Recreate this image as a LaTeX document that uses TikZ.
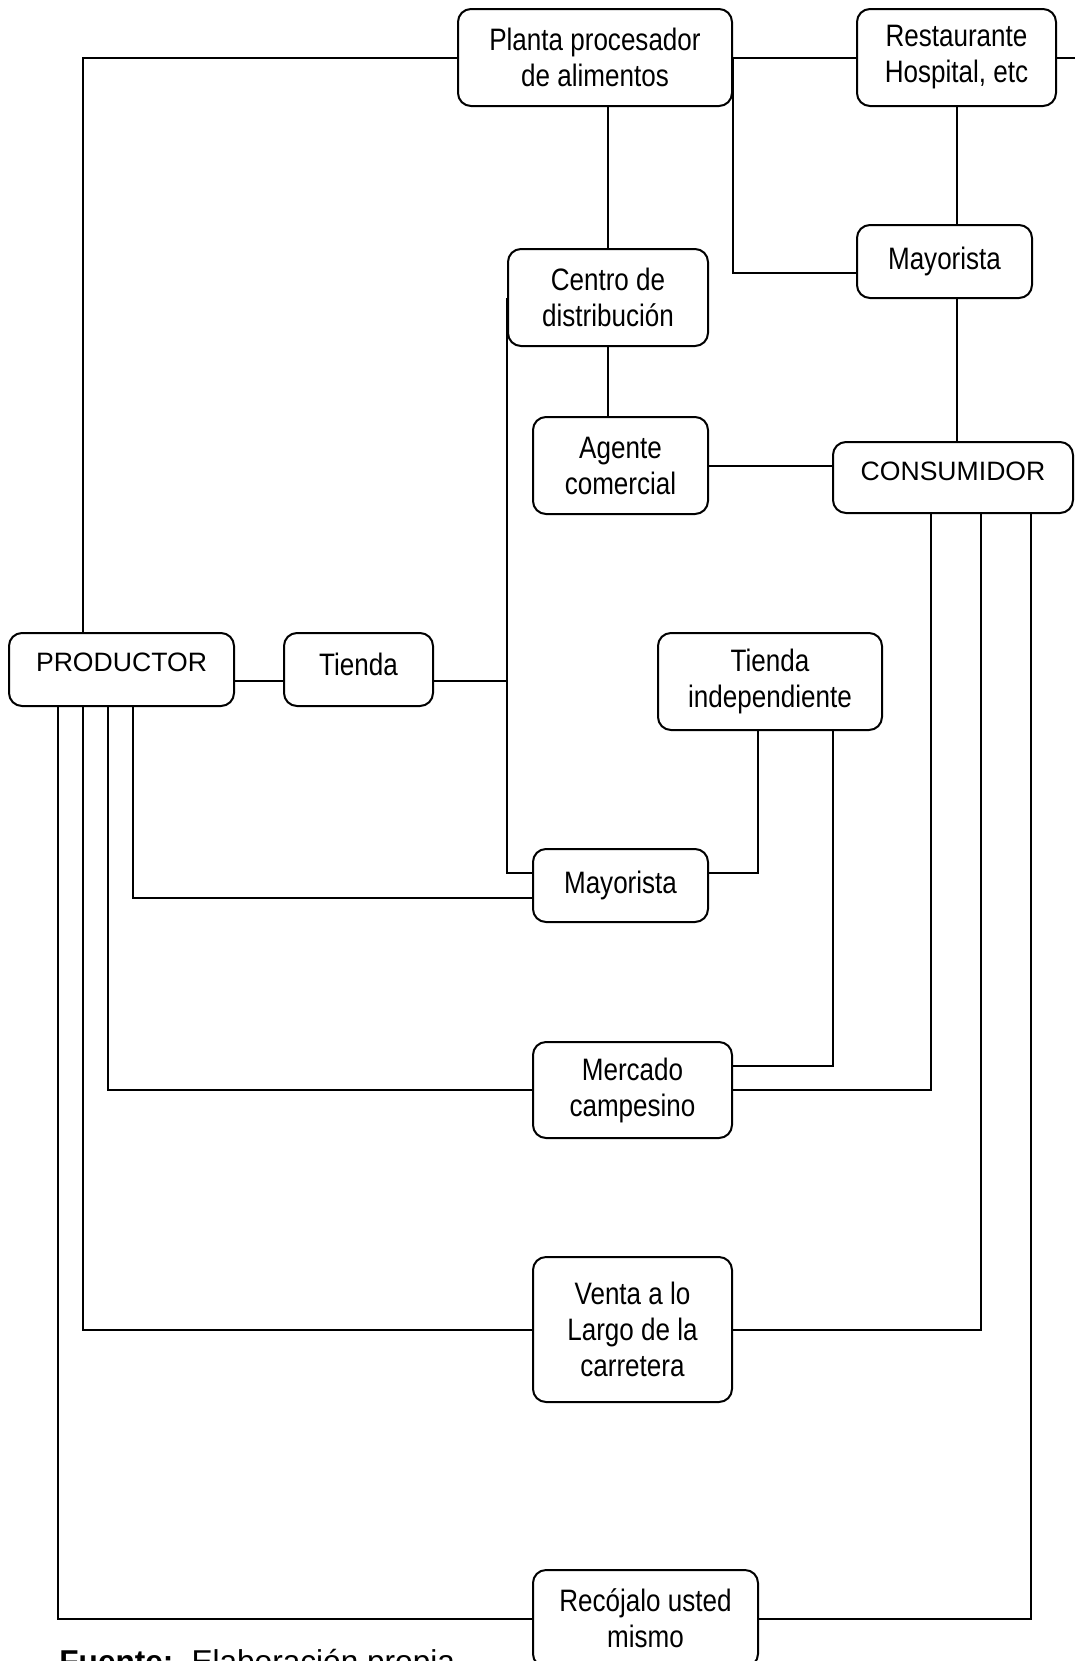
\documentclass[tikz,border=0pt]{standalone}
\usepackage{fontspec}
\setmainfont{Liberation Sans}[FakeStretch=0.84]
\newfontfamily\plainsans{Liberation Sans}
\usetikzlibrary{calc}
\tikzset{
  caja/.style = {draw, line width = 1pt, rounded corners = 6.5pt, fill = white, inner sep = 0pt,
                 align = center, font = \fontsize{15.5}{18}\selectfont},
  cajamay/.style = {caja, font = \plainsans\fontsize{13.3}{16}\selectfont},
  enlace/.style = {line width = 1pt}
}
\begin{document}
\begin{tikzpicture}[x = .5pt, y = -.5pt]
  \useasboundingbox (0,0) rectangle (1075,1661);
  \clip (0,0) rectangle (1075,1661);
  % cajas
  \node[caja, minimum width = 137pt, minimum height = 48.5pt] (planta) at (595,57.5) {Planta procesador\\de alimentos};
  \node[caja, minimum width = 99.5pt, minimum height = 48.5pt] (restaurante) at (956.5,57.5) {Restaurante\\Hospital, etc};
  \node[caja, minimum width = 100pt, minimum height = 48.5pt] (centro) at (608,297.5) {Centro de\\distribución};
  \node[caja, minimum width = 87.5pt, minimum height = 36.5pt] (mayorA) at (944.5,261.5) {Mayorista};
  \node[caja, minimum width = 87.5pt, minimum height = 48.5pt] (agente) at (620.5,465.5) {Agente\\comercial};
  \node[cajamay, minimum width = 120pt, minimum height = 35.5pt, text depth = 6.5pt] (consumidor) at (953,477.5) {CONSUMIDOR};
  \node[cajamay, minimum width = 112.5pt, minimum height = 36.5pt, text depth = 7.5pt] (productor) at (121.5,669.5) {PRODUCTOR};
  \node[caja, minimum width = 74.5pt, minimum height = 36.5pt, text depth = 5.25pt] (tienda) at (358.5,669.5) {Tienda};
  \node[caja, minimum width = 112pt, minimum height = 48.5pt] (tiendaInd) at (770,681.5) {Tienda\\independiente};
  \node[caja, minimum width = 87.5pt, minimum height = 36.5pt] (mayorB) at (620.5,885.5) {Mayorista};
  \node[caja, minimum width = 99.5pt, minimum height = 48pt] (mercado) at (632.5,1090) {Mercado\\campesino};
  \node[caja, minimum width = 99.5pt, minimum height = 72.5pt] (venta) at (632.5,1329.5) {Venta a lo\\Largo de la\\carretera};
  \node[caja, minimum width = 112.5pt, minimum height = 48.5pt] (recojalo) at (645.5,1618.5) {Recójalo usted\\mismo};
  \node[anchor = base west, inner sep = 0pt, font = \plainsans\fontsize{15.8}{19}\selectfont] (fuente) at (59,1672) {\textbf{Fuente:}\hspace{9pt}Elaboración propia};

  % carriles
  \coordinate (pA) at ($(productor.south west)+(50,0)$);
  \coordinate (pB) at ($(productor.south west)+(75,0)$);
  \coordinate (pC) at ($(productor.south west)+(100,0)$);
  \coordinate (pD) at ($(productor.south west)+(125,0)$);
  \coordinate (cA) at ($(consumidor.south west)+(99,0)$);
  \coordinate (cB) at ($(consumidor.south west)+(149,0)$);
  \coordinate (cC) at ($(consumidor.south west)+(199,0)$);
  \coordinate (tA) at ($(tiendaInd.south)+(-12,0)$);
  \coordinate (tB) at ($(tiendaInd.south)+(63,0)$);
  \coordinate (bordeR) at (1075,57.5);

  % enlaces
  \begin{scope}[enlace]
    \draw (planta.west) -| (productor.north -| pB);
    \draw (planta.east) -- (restaurante.west);
    \draw (restaurante.east) -- (bordeR);
    \draw (centro.north) -- (centro.north |- planta.south);
    \draw (planta.east) |- ($(mayorA.west)+(0,11.5)$);
    \draw (restaurante.south) -- (restaurante.south |- mayorA.north);
    \draw (restaurante.south |- mayorA.south) -- (restaurante.south |- consumidor.north);
    \draw (centro.south) -- (centro.south |- agente.north);
    \draw (agente.east) -- (agente.east -| consumidor.west);
    \draw (centro.west) |- ($(mayorB.west)+(0,-12.5)$);
    \draw ($(productor.east)+(0,11.5)$) -- ($(tienda.west)+(0,11.5)$);
    \draw ($(tienda.east)+(0,11.5)$) coordinate (tE) -- (tE -| centro.west);
    \draw (pD) |- ($(mayorB.west)+(0,12.5)$);
    \draw (tA) |- ($(mayorB.east)+(0,-12.5)$);
    \draw (tB) |- ($(mercado.east)+(0,-24)$);
    \draw (pC) |- (mercado.west);
    \draw (cA) |- (mercado.east);
    \draw (pB) |- (venta.west);
    \draw (cB) |- (venta.east);
    \draw (pA) |- (recojalo.west);
    \draw (cC) |- (recojalo.east);
  \end{scope}
\end{tikzpicture}
\end{document}
